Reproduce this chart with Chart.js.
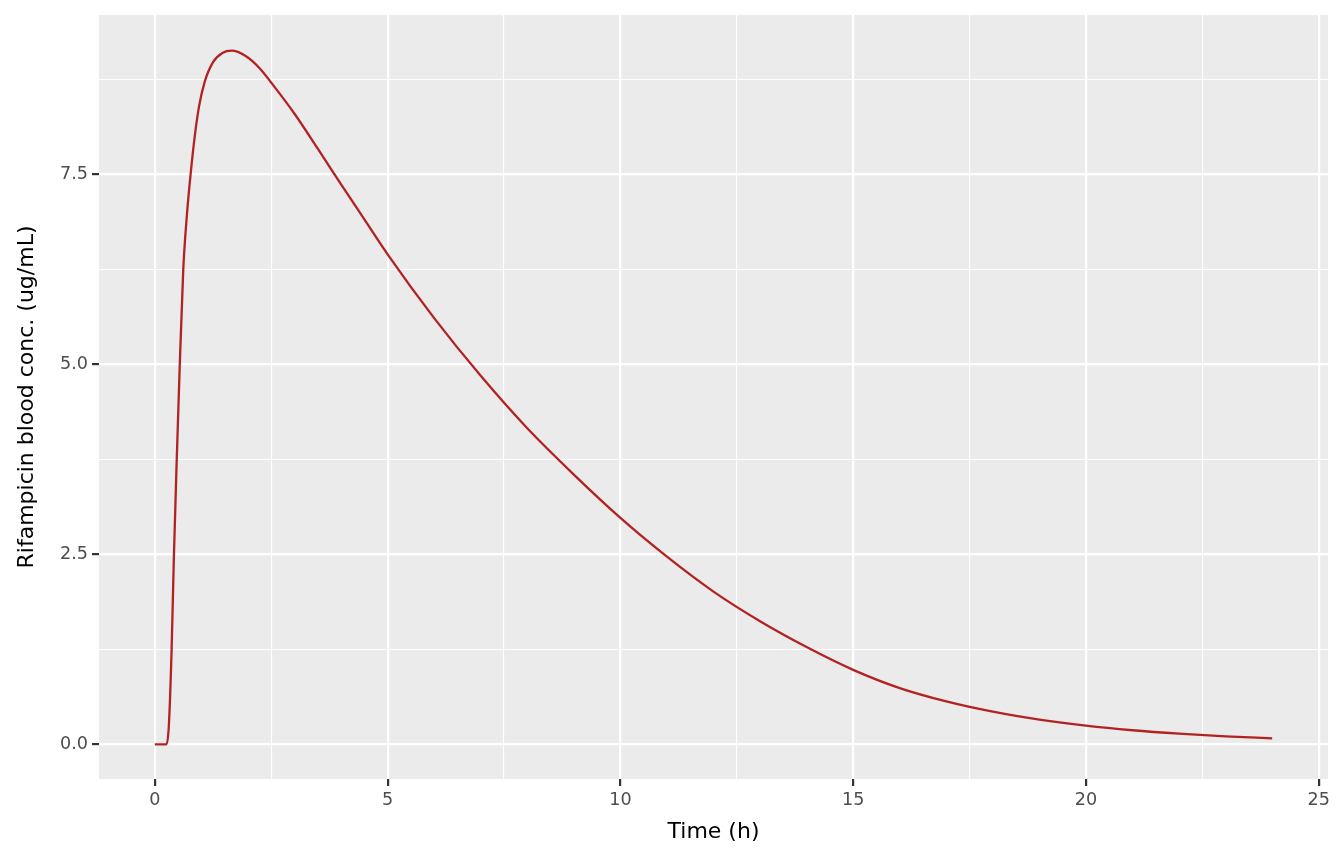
<!DOCTYPE html>
<html>
<head>
<meta charset="utf-8">
<script src="https://cdn.jsdelivr.net/npm/chart.js@4.4.1/dist/chart.umd.min.js"></script>
<style>
  html, body { margin: 0; padding: 0; background: #fff; }
  #wrap { width: 1344px; height: 864px; }
</style>
</head>
<body>
<div id="wrap"><canvas id="c" width="1344" height="864"></canvas></div>
<script>
// time (h) and concentration (ug/mL)
const timeH = [0, 0.25, 0.30, 0.36, 0.41, 0.47, 0.53, 0.61, 0.69, 0.77, 0.86, 0.95, 1.07, 1.25, 1.45,
  1.65, 1.95, 2.25, 2.5, 3.0, 3.5, 4.0, 4.5, 5, 6, 7, 8, 9, 10, 11, 12, 13, 14, 15,
  16, 17, 18, 19, 20, 21, 22, 23, 24];
const concUgMl = [0, 0, 0.24, 1.25, 2.5, 3.75, 4.9, 6.25, 6.98, 7.52, 8.02, 8.40, 8.72, 8.98, 9.10,
  9.13, 9.06, 8.90, 8.71, 8.30, 7.84, 7.37, 6.91, 6.45, 5.61, 4.85, 4.16, 3.55, 2.98, 2.47, 2.01, 1.62, 1.28, 0.98,
  0.74, 0.565, 0.43, 0.325, 0.245, 0.185, 0.14, 0.105, 0.078];

const xMajor = [0, 5, 10, 15, 20, 25];
const xMinor = [2.5, 7.5, 12.5, 17.5, 22.5];
const yMajor = [0, 2.5, 5, 7.5];
const yMinor = [1.25, 3.75, 6.25, 8.75];

const points = timeH.map((t, i) => ({ x: t, y: concUgMl[i] }));

const panelBg = {
  id: 'panelBg',
  beforeDraw(chart) {
    const a = chart.chartArea;
    const ctx = chart.ctx;
    ctx.save();
    ctx.fillStyle = '#EBEBEB';
    ctx.fillRect(a.left, a.top, a.right - a.left, a.bottom - a.top);
    ctx.restore();
  }
};

function gridOpts(major) {
  const isMajor = (ctx) => major.includes(ctx.tick.value);
  return {
    color: '#FFFFFF',
    lineWidth: (ctx) => (isMajor(ctx) ? 2.2 : 1.1),
    tickColor: (ctx) => (isMajor(ctx) ? '#333333' : 'rgba(0,0,0,0)'),
    tickWidth: 2.2,
    tickLength: 7,
    drawOnChartArea: true,
  };
}

new Chart(document.getElementById('c').getContext('2d'), {
  type: 'line',
  data: {
    datasets: [{
      data: points,
      borderColor: '#B22222',
      borderWidth: 2.3,
      pointRadius: 0,
      fill: false,
      cubicInterpolationMode: 'monotone',
    }],
  },
  options: {
    responsive: false,
    animation: false,
    layout: { padding: { top: 15, right: 16, left: 0, bottom: 0 } },
    plugins: { legend: { display: false }, tooltip: { enabled: false } },
    scales: {
      x: {
        type: 'linear',
        min: -1.2,
        max: 25.2,
        border: { display: false },
        grid: gridOpts(xMajor),
        afterBuildTicks: (s) => { s.ticks = xMajor.concat(xMinor).sort((a, b) => a - b).map((v) => ({ value: v })); },
        afterFit: (s) => { s.height = 85; },
        ticks: {
          autoSkip: false,
          maxRotation: 0,
          padding: 4,
          color: '#4D4D4D',
          font: { family: 'DejaVu Sans', size: 17.6 },
          callback: (v) => (xMajor.includes(v) ? String(v) : ''),
        },
        title: {
          display: true,
          text: 'Time (h)',
          color: '#000000',
          font: { family: 'DejaVu Sans', size: 22 },
          padding: { top: 0, bottom: 19 },
        },
      },
      y: {
        type: 'linear',
        min: -0.457,
        max: 9.6,
        border: { display: false },
        grid: gridOpts(yMajor),
        afterBuildTicks: (s) => { s.ticks = yMajor.concat(yMinor).sort((a, b) => a - b).map((v) => ({ value: v })); },
        afterFit: (s) => { s.width = 99; },
        ticks: {
          autoSkip: false,
          padding: 4,
          color: '#4D4D4D',
          font: { family: 'DejaVu Sans', size: 17.6 },
          callback: (v) => (yMajor.includes(v) ? v.toFixed(1) : ''),
        },
        title: {
          display: true,
          text: 'Rifampicin blood conc. (ug/mL)',
          color: '#000000',
          font: { family: 'DejaVu Sans', size: 22 },
          padding: { top: 14, bottom: 0 },
        },
      },
    },
  },
  plugins: [panelBg],
});
</script>
</body>
</html>
